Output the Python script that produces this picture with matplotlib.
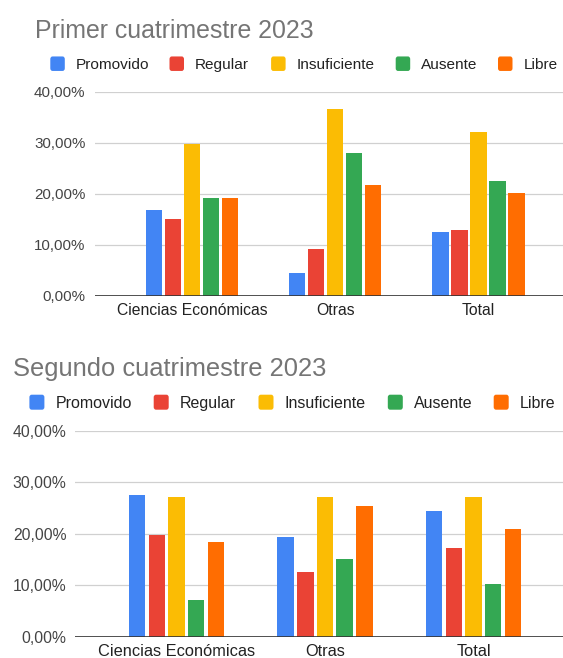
import matplotlib
matplotlib.use('Agg')
import matplotlib.pyplot as plt
from matplotlib.patches import FancyBboxPatch
import numpy as np

# --- DATOS (porcentajes) ---
categorias = ['Ciencias Económicas', 'Otras', 'Total']
series = ['Promovido', 'Regular', 'Insuficiente', 'Ausente', 'Libre']
colores = ['#4285F4', '#EA4335', '#FBBC04', '#34A853', '#FF6D01']

primer_promovido = [16.8, 4.5, 12.4]
primer_regular = [15.0, 9.1, 12.8]
primer_insuficiente = [29.7, 36.5, 32.0]
primer_ausente = [19.1, 28.0, 22.4]
primer_libre = [19.1, 21.7, 20.1]

segundo_promovido = [27.6, 19.3, 24.5]
segundo_regular = [19.8, 12.5, 17.2]
segundo_insuficiente = [27.1, 27.1, 27.1]
segundo_ausente = [7.1, 15.1, 10.2]
segundo_libre = [18.4, 25.4, 21.0]

ticks_y = [0, 10, 20, 30, 40]

W, H = 563, 658
plt.rcParams['font.family'] = ['Liberation Sans', 'DejaVu Sans']

fig = plt.figure(figsize=(W / 100, H / 100), dpi=100)
fig.patch.set_facecolor('white')


def fx(px):
    return px / W


def fy(py):
    return 1 - py / H


def leyenda(xs_caja, dx_texto, y_centro, y_base, lado, fs):
    # leyenda dibujada a mano (cuadrado redondeado + texto)
    for x, nombre, color in zip(xs_caja, series, colores):
        caja = FancyBboxPatch((fx(x), fy(y_centro + lado / 2)), fx(lado), lado / H,
                              boxstyle="round,pad=0,rounding_size=0.004",
                              transform=fig.transFigure, facecolor=color,
                              edgecolor='none')
        fig.patches.append(caja)
        fig.text(fx(x + dx_texto), fy(y_base), nombre, fontsize=fs,
                 color='#222222', va='baseline', ha='left')


def grafico(rect, valores, titulo, pos_titulo, fs_titulo, xlim, paso, ancho,
            fs_y, pad_y, fs_x, pad_x):
    left, top, right, bottom = rect
    ax = fig.add_axes([fx(left), fy(bottom), fx(right - left), (bottom - top) / H])
    x = np.arange(len(categorias))
    for i, (vals, color) in enumerate(zip(valores, colores)):
        ax.bar(x + (i - 2) * paso, vals, width=ancho, color=color, zorder=3)
    ax.set_ylim(0, 40)
    ax.set_xlim(*xlim)
    ax.set_yticks(ticks_y)
    ax.set_yticklabels([f"{v:.2f}".replace('.', ',') + '%' for v in ticks_y])
    ax.set_xticks(x)
    ax.set_xticklabels(categorias)
    ax.tick_params(axis='y', length=0, pad=pad_y, labelsize=fs_y, colors='#444444')
    ax.tick_params(axis='x', length=0, pad=pad_x, labelsize=fs_x, colors='#222222')
    ax.grid(axis='y', color='#d0d0d0', linewidth=0.9, zorder=0)
    for s in ax.spines.values():
        s.set_visible(False)
    ax.axhline(0, color='#333333', linewidth=1.2, zorder=4)
    fig.text(fx(pos_titulo[0]), fy(pos_titulo[1]), titulo, fontsize=fs_titulo,
             color='#757575', va='baseline', ha='left')
    return ax


grafico((95.2, 91.5, 563, 295.7),
        [primer_promovido, primer_regular, primer_insuficiente, primer_ausente, primer_libre],
        'Primer cuatrimestre 2023', (34.8, 37.7), 17.9,
        (-0.677, 2.590), 0.1327, 0.114, 10.9, 7.0, 11.3, 5.3)
leyenda([50.3, 169.5, 271.1, 395.7, 498.0], 25.3, 63.7, 69.0, 14.5, 11.1)

grafico((75.4, 430.7, 563, 636.7),
        [segundo_promovido, segundo_regular, segundo_insuficiente, segundo_ausente, segundo_libre],
        'Segundo cuatrimestre 2023', (13.3, 376.0), 18.4,
        (-0.681, 2.603), 0.1327, 0.111, 11.3, 6.5, 11.8, 5.0)
leyenda([29.4, 153.7, 258.5, 387.8, 493.7], 26.3, 402.2, 408.3, 15.0, 11.5)

fig.savefig('out.png', dpi=100, facecolor='white')
